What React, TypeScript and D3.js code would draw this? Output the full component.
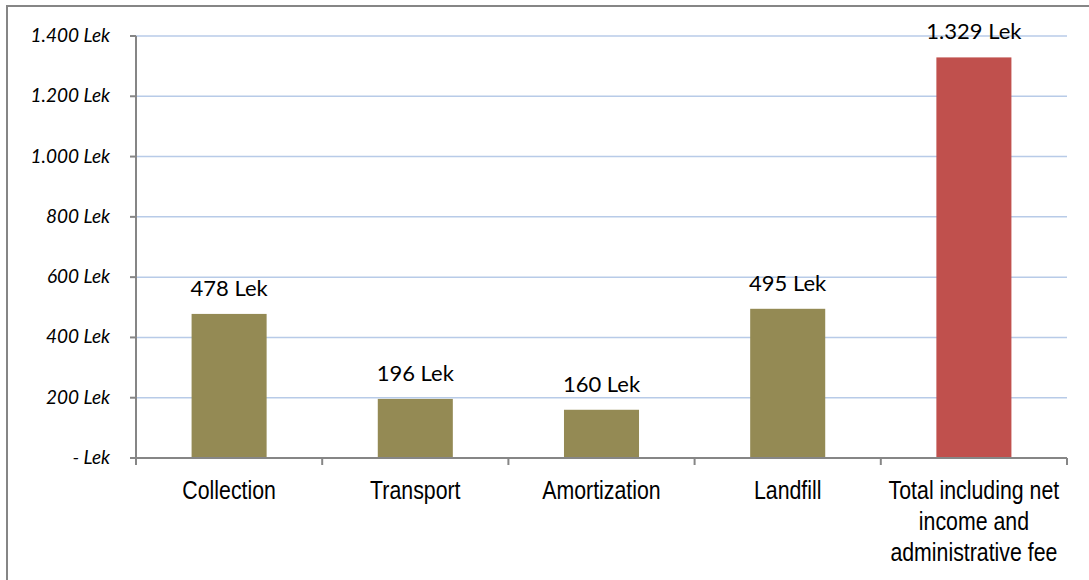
import React from 'react'
import * as d3 from 'd3'

const categories = ['Collection', 'Transport', 'Amortization', 'Landfill', 'Total including net income and administrative fee']
const categoryLines = [['Collection'], ['Transport'], ['Amortization'], ['Landfill'], ['Total including net', 'income and', 'administrative fee']]
const values = [478, 196, 160, 495, 1329]
const barColors = ['#948A54', '#948A54', '#948A54', '#948A54', '#C0504D']
const yTicks = [0, 200, 400, 600, 800, 1000, 1200, 1400]

const W = 1089
const H = 580
const margin = { top: 36, right: 22, bottom: 122, left: 136 }

const locale = d3.formatLocale({ decimal: ',', thousands: '.', grouping: [3], currency: ['', ''] })
const fmt = locale.format(',.0f')
const lek = (v: number) => (v === 0 ? '- Lek' : fmt(v) + ' Lek')

export default function App() {
  const innerW = W - margin.left - margin.right
  const baseY = H - margin.bottom

  const x = d3.scaleBand<string>().domain(categories).range([margin.left, margin.left + innerW]).padding(0)
  const y = d3.scaleLinear().domain([0, 1400]).range([baseY, margin.top])
  const barW = x.bandwidth() * 0.403

  const edges = categories.map(c => x(c) as number).concat([margin.left + innerW])

  return (
    <svg width={W} height={H} style={{ position: 'absolute', left: 0, top: 0, background: '#fff' }}>
      {/* outer frame */}
      <path d={`M7,${H + 5} V6 H${W + 5}`} fill="none" stroke="#868686" strokeWidth={2} />

      {/* gridlines */}
      {yTicks.filter(t => t > 0).map(t => (
        <line key={t} x1={margin.left} x2={margin.left + innerW} y1={y(t)} y2={y(t)} stroke="#B8CBE8" strokeWidth={1.5} />
      ))}

      {/* bars */}
      {categories.map((c, i) => {
        const cx = (x(c) as number) + x.bandwidth() / 2
        return (
          <g key={c}>
            <rect x={cx - barW / 2} y={y(values[i])} width={barW} height={baseY - y(values[i])} fill={barColors[i]} />
            <text x={cx} y={y(values[i]) - 18} textAnchor="middle" fontFamily="Lato, 'Open Sans', sans-serif" fontSize={22} fill="#000">
              {lek(values[i])}
            </text>
          </g>
        )
      })}

      {/* y axis */}
      <line x1={margin.left} x2={margin.left} y1={margin.top} y2={baseY} stroke="#868686" strokeWidth={2} />
      {yTicks.map(t => (
        <g key={t}>
          <line x1={margin.left - 6} x2={margin.left} y1={y(t)} y2={y(t)} stroke="#868686" strokeWidth={2} />
          <text x={110} y={y(t) + 6} textAnchor="end" fontFamily="Lato, 'Open Sans', sans-serif" fontStyle="italic" fontSize={19} fill="#000">
            {lek(t)}
          </text>
        </g>
      ))}

      {/* x axis */}
      <line x1={margin.left} x2={margin.left + innerW} y1={baseY} y2={baseY} stroke="#868686" strokeWidth={2} />
      {edges.map((ex, i) => (
        <line key={i} x1={ex} x2={ex} y1={baseY} y2={baseY + 7} stroke="#868686" strokeWidth={2} />
      ))}
      {categories.map((c, i) => {
        const cx = (x(c) as number) + x.bandwidth() / 2
        return (
          <g key={c} transform={`translate(${cx},0) scale(0.82,1)`}>
            {categoryLines[i].map((ln, j) => (
              <text key={j} x={0} y={499 + j * 31} textAnchor="middle" fontFamily="'Liberation Sans', Arial, sans-serif" fontSize={26} fill="#000">
                {ln}
              </text>
            ))}
          </g>
        )
      })}
    </svg>
  )
}
